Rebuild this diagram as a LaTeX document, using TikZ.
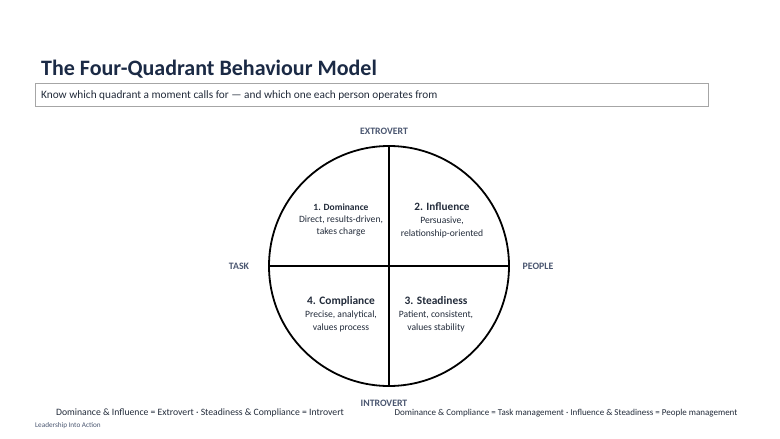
\documentclass[tikz,border=0pt]{standalone}
\usepackage{fontspec}
\setmainfont{Carlito}
\definecolor{navy}{HTML}{1B2A45}
\definecolor{slate}{HTML}{4A5670}
\definecolor{qtext}{HTML}{222B3A}
\begin{document}
\begin{tikzpicture}[x=1pt,y=-1pt,
  axislbl/.style={font=\fontsize{9.8}{11}\selectfont\bfseries, text=slate},
  qtitle/.style={font=\fontsize{9.5}{11}\selectfont\bfseries, text=qtext},
  qbody/.style={font=\fontsize{9.6}{12}\selectfont, text=qtext, anchor=base, inner sep=0pt},
  foot/.style={text=qtext, inner sep=0pt}]
\useasboundingbox (0,0) rectangle (780,439);
\node[anchor=base west, inner sep=0pt, font=\fontsize{22}{24}\selectfont\bfseries, text=navy] (title) at (41,75) {The Four-Quadrant Behaviour Model};
\node[draw=gray!70, line width=0.8pt, anchor=north west, minimum width=673pt, minimum height=23pt, inner sep=0pt] (sub) at (35,83) {};
\node[anchor=west, inner sep=0pt, font=\fontsize{11.3}{12}\selectfont, text=qtext] (subt) at (41,95) {Know which quadrant a moment calls for — and which one each person operates from};
% circle
\coordinate (c) at (389,266);
\node[draw=black, line width=1.8pt, circle, minimum size=240pt, inner sep=0pt] (circ) at (c) {};
\draw[line width=1.8pt] (circ.north) -- (circ.south);
\draw[line width=1.8pt] (circ.west) -- (circ.east);
% axis labels
\node[axislbl] (ext) at (384,131) {EXTROVERT};
\node[axislbl] (intr) at (384,403) {INTROVERT};
\node[axislbl] (task) at (239,266) {TASK};
\node[axislbl] (ppl) at (538,266) {PEOPLE};
% quadrants
\node[qtitle] (d) at (341,207) {1. Dominance};
\node[qbody] (db1) at (341,222) {Direct, results-driven,};
\node[qbody] (db2) at (341,234) {takes charge};
\node[qtitle, font=\fontsize{11.2}{12}\selectfont\bfseries] (i) at (442,207) {2. Influence};
\node[qbody] (ib1) at (442,223) {Persuasive,};
\node[qbody] (ib2) at (442,236) {relationship-oriented};
\node[qtitle, font=\fontsize{11.4}{12}\selectfont\bfseries] (cmp) at (341,301) {4. Compliance};
\node[qbody] (cb1) at (341,317) {Precise, analytical,};
\node[qbody] (cb2) at (341,330) {values process};
\node[qtitle, font=\fontsize{11.4}{12}\selectfont\bfseries] (s) at (436,301) {3. Steadiness};
\node[qbody] (sb1) at (436,317) {Patient, consistent,};
\node[qbody] (sb2) at (436,330) {values stability};
% footers
\node[foot, font=\fontsize{9.7}{10}\selectfont] (f1) at (200,413) {Dominance \& Influence = Extrovert · Steadiness \& Compliance = Introvert};
\node[foot, font=\fontsize{9}{10}\selectfont] (f2) at (566,413) {Dominance \& Compliance = Task management · Influence \& Steadiness = People management};
\node[anchor=west, inner sep=0pt, font=\fontsize{7.2}{8}\selectfont, text=slate] (brand) at (35,426) {Leadership Into Action};
\end{tikzpicture}
\end{document}
